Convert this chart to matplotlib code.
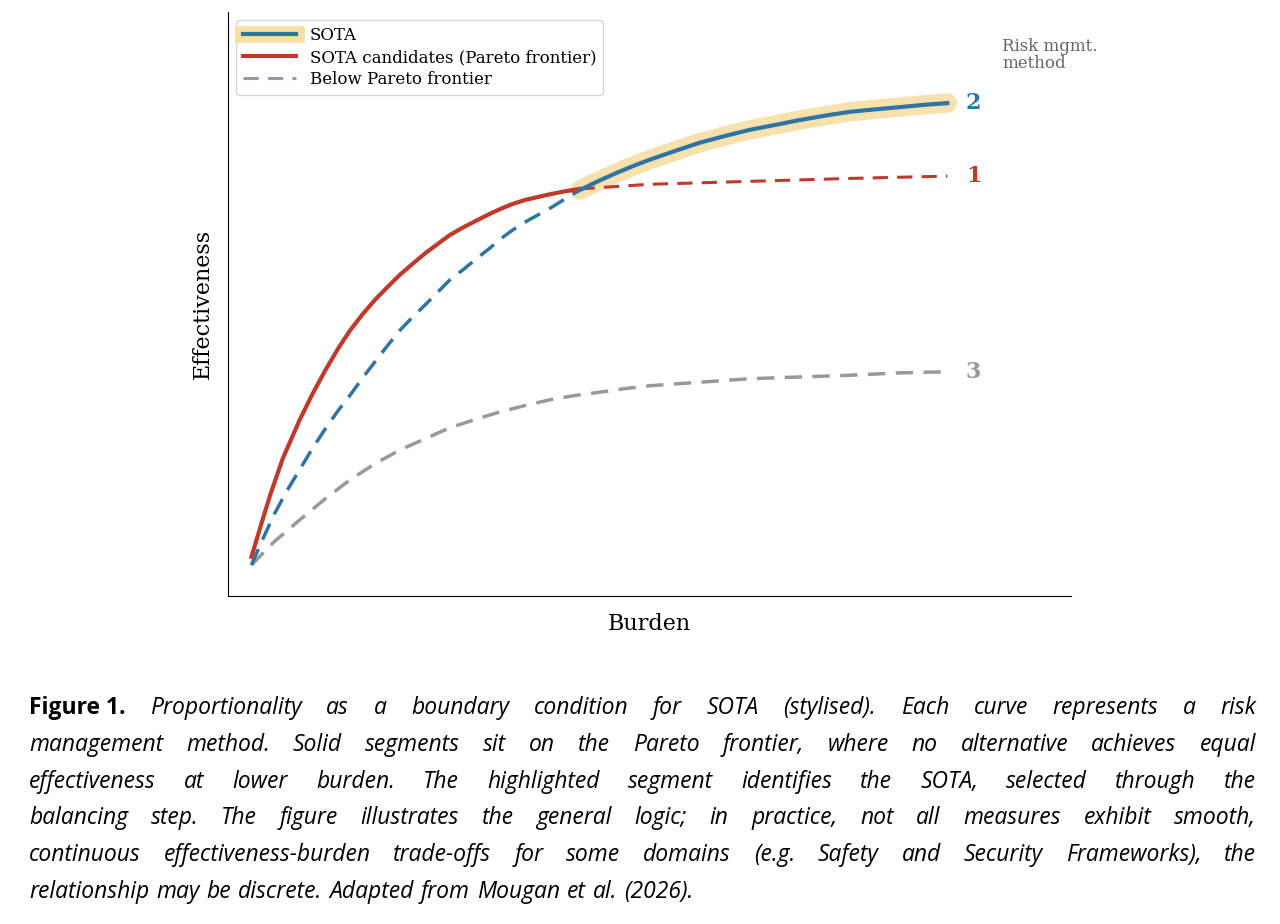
import matplotlib.pyplot as plt
from matplotlib.lines import Line2D

# values (burden 0-10, effectiveness 0-10)
x_red = [0.28, 0.4, 0.5, 0.65, 0.85, 1.0, 1.15, 1.3, 1.45, 1.6, 1.75, 1.9, 2.04, 2.2, 2.35,
         2.5, 2.63, 2.8, 2.95, 3.1, 3.22, 3.37, 3.52, 3.67, 3.82, 4.0, 4.17]
y_red = [0.67, 1.25, 1.72, 2.35, 3.01, 3.45, 3.85, 4.22, 4.55, 4.83, 5.08, 5.30, 5.50, 5.70, 5.88,
         6.04, 6.18, 6.32, 6.43, 6.54, 6.62, 6.71, 6.78, 6.83, 6.88, 6.93, 6.97]
x_red_d = [4.17, 5.0, 6.18, 7.37, 8.53]
y_red_d = [6.97, 7.05, 7.10, 7.15, 7.19]

x_blue_d = [0.28, 0.4, 0.55, 0.7, 0.85, 1.0, 1.15, 1.3, 1.45, 1.6, 1.75, 1.9, 2.04, 2.2, 2.35,
            2.5, 2.63, 2.8, 2.95, 3.1, 3.22, 3.37, 3.52, 3.67, 3.82, 4.0, 4.17]
y_blue_d = [0.53, 0.93, 1.40, 1.80, 2.16, 2.52, 2.85, 3.16, 3.44, 3.74, 4.02, 4.30, 4.55, 4.79, 5.00,
            5.22, 5.41, 5.60, 5.78, 5.95, 6.10, 6.26, 6.40, 6.52, 6.64, 6.80, 6.95]
x_blue = [4.17, 4.4, 4.6, 4.8, 5.0, 5.3, 5.59, 5.9, 6.18, 6.5, 6.78, 7.1, 7.37, 7.65, 7.96, 8.25, 8.53]
y_blue = [6.95, 7.11, 7.24, 7.36, 7.47, 7.62, 7.76, 7.88, 7.98, 8.07, 8.15, 8.23, 8.29, 8.33, 8.37, 8.41, 8.44]

x_gray = [0.28, 0.55, 0.85, 1.15, 1.45, 1.75, 2.04, 2.35, 2.63, 2.95, 3.22, 3.52, 3.82, 4.1, 4.41,
          4.7, 5.0, 5.59, 6.18, 6.78, 7.37, 7.96, 8.53]
y_gray = [0.53, 0.93, 1.30, 1.66, 1.99, 2.27, 2.50, 2.70, 2.88, 3.03, 3.15, 3.26, 3.36, 3.43, 3.49,
          3.55, 3.60, 3.66, 3.72, 3.75, 3.78, 3.82, 3.84]

RED = "#c0392b"
BLUE = "#2e75a3"
GRAY = "#999999"
HL = "#f7dfa6"

caption_lines = [
    "Proportionality as a boundary condition for SOTA (stylised). Each curve represents a risk",
    "management method. Solid segments sit on the Pareto frontier, where no alternative achieves equal",
    "effectiveness at lower burden. The highlighted segment identifies the SOTA, selected through the",
    "balancing step. The figure illustrates the general logic; in practice, not all measures exhibit smooth,",
    "continuous effectiveness-burden trade-offs for some domains (e.g. Safety and Security Frameworks), the",
    "relationship may be discrete. Adapted from Mougan et al. (2026).",
]

plt.rcParams["font.family"] = "DejaVu Serif"
fig = plt.figure(figsize=(12.8, 9.24), dpi=100)
ax = fig.add_axes([0.178, 0.355, 0.659, 0.632])
ax.set_xlim(0, 10)
ax.set_ylim(0, 10)

ax.plot(x_blue, y_blue, color=HL, lw=14, solid_capstyle="round", alpha=0.9)
ax.plot(x_gray, y_gray, color=GRAY, lw=2.5, ls=(0, (5, 3)))
ax.plot(x_blue_d, y_blue_d, color=BLUE, lw=2.5, ls=(0, (5, 3)))
ax.plot(x_red_d, y_red_d, color=RED, lw=2.2, ls=(0, (5, 3)))
ax.plot(x_red, y_red, color=RED, lw=3)
ax.plot(x_blue, y_blue, color=BLUE, lw=3)

ax.text(8.75, y_blue[-1], "2", color=BLUE, fontsize=16, fontweight="bold", va="center")
ax.text(8.75, y_red_d[-1], "1", color=RED, fontsize=16, fontweight="bold", va="center")
ax.text(8.75, y_gray[-1], "3", color=GRAY, fontsize=16, fontweight="bold", va="center")
ax.text(9.18, 9.27, "Risk mgmt.\nmethod", color="#666666", fontsize=12, va="center", linespacing=1.0)

for s in ["top", "right"]:
    ax.spines[s].set_visible(False)
ax.set_xticks([])
ax.set_yticks([])
ax.set_xlabel("Burden", fontsize=16, labelpad=12)
ax.set_ylabel("Effectiveness", fontsize=16, labelpad=10)

h_sota = (Line2D([], [], color=HL, lw=12), Line2D([], [], color=BLUE, lw=3))
h_red = Line2D([], [], color=RED, lw=3)
h_gray = Line2D([], [], color=GRAY, lw=2.2, ls=(0, (5, 3)))
ax.legend([h_sota, h_red, h_gray],
          ["SOTA", "SOTA candidates (Pareto frontier)", "Below Pareto frontier"],
          loc="upper left", bbox_to_anchor=(0.0, 1.0), fontsize=12, handlelength=3.2,
          labelspacing=0.3, borderpad=0.4)

# justified caption
fig.canvas.draw()
r = fig.canvas.get_renderer()
x0, x1 = 29 / 1280, 1256 / 1280
line_h = 36.8 / 924
y0 = 1 - 708 / 924
cfont = dict(family="Open Sans", fontsize=16.5, style="italic")
for i, line in enumerate(caption_lines):
    y = y0 - i * line_h
    parts = []
    if i == 0:
        parts.append(("Figure 1.", dict(family="Open Sans", fontsize=16.5, fontweight="bold")))
    parts += [(w, cfont) for w in line.split()]
    texts = [fig.text(0, y, w, va="center", **kw) for w, kw in parts]
    widths = [t.get_window_extent(r).width / fig.bbox.width for t in texts]
    last = i == len(caption_lines) - 1
    gap = 0.0055 if last else (x1 - x0 - sum(widths)) / (len(texts) - 1)
    x = x0
    for t, w in zip(texts, widths):
        t.set_x(x)
        x += w + gap

fig.savefig("out.png", dpi=100)
